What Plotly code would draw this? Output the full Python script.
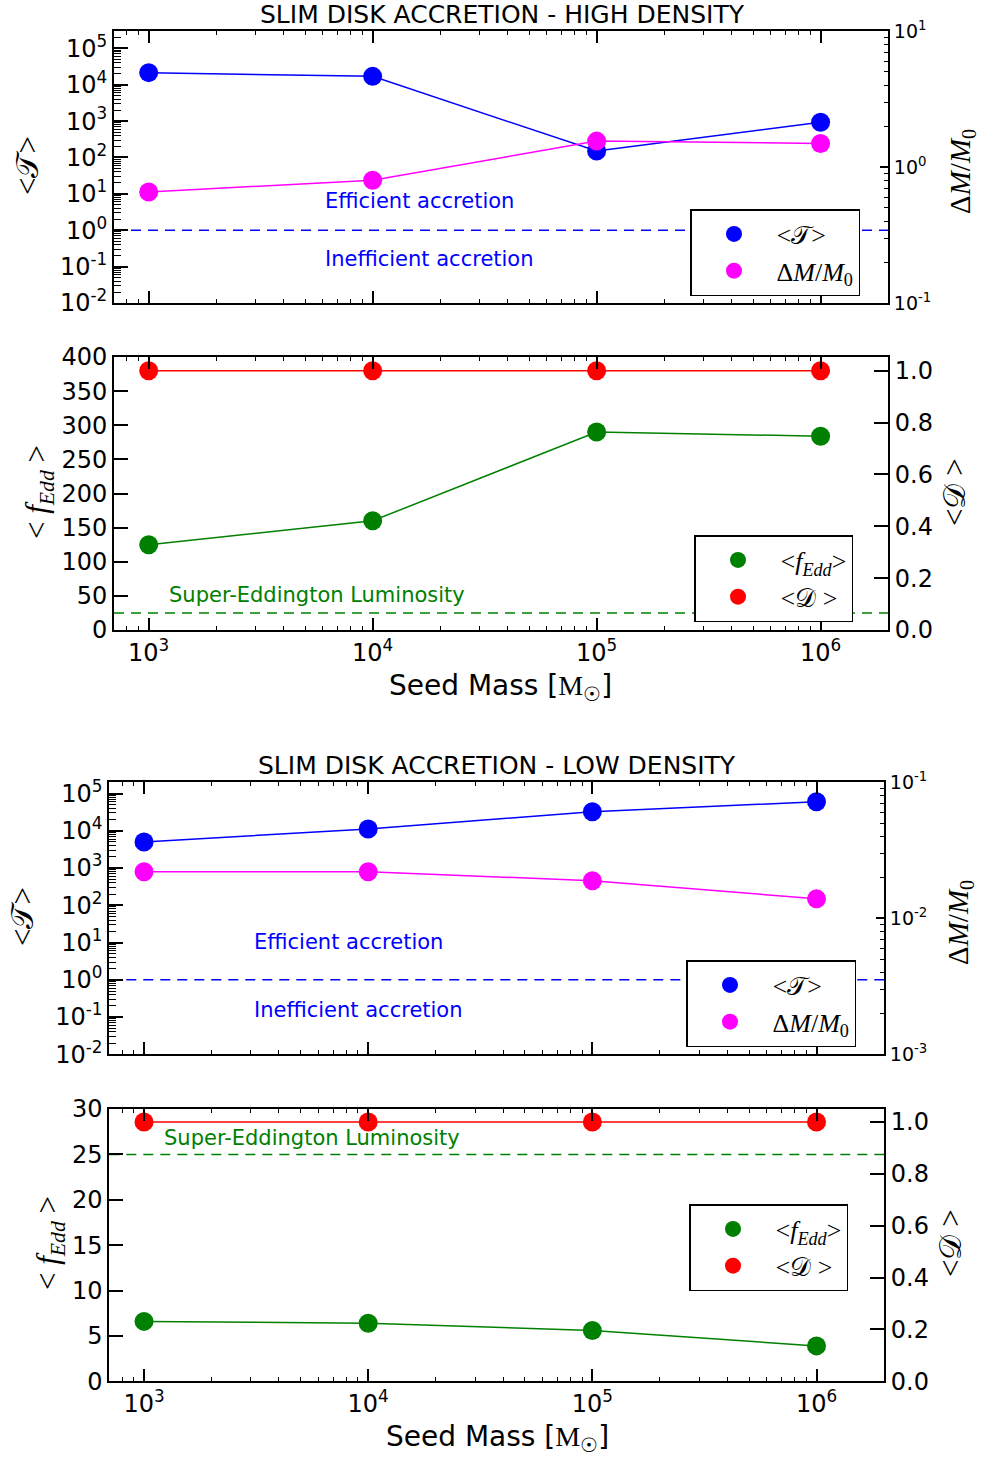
import math
import plotly.graph_objects as go

# ---------------- data ----------------
seed_mass = [1e3, 1e4, 1e5, 1e6]
x_tick_vals = [1e3, 1e4, 1e5, 1e6]
x_tick_text = ["10<sup>3</sup>", "10<sup>4</sup>", "10<sup>5</sup>", "10<sup>6</sup>"]

# High density
T_high = [2.15e4, 1.7e4, 150, 925]
dM_high = [0.655, 0.80, 1.55, 1.49]
fEdd_high = [125, 160, 290, 284]
D_high = [1.0, 1.0, 1.0, 1.0]

# Low density
T_low = [5.0e3, 1.12e4, 3.25e4, 6.0e4]
dM_low = [0.022, 0.022, 0.0189, 0.0139]
fEdd_low = [6.6, 6.4, 5.6, 3.9]
D_low = [1.0, 1.0, 1.0, 1.0]

T_threshold = 1
fEdd_threshold = 25

T_tick_vals = [1e-2, 1e-1, 1e0, 1e1, 1e2, 1e3, 1e4, 1e5]
T_tick_text = ["10<sup>-2</sup>", "10<sup>-1</sup>", "10<sup>0</sup>", "10<sup>1</sup>",
               "10<sup>2</sup>", "10<sup>3</sup>", "10<sup>4</sup>", "10<sup>5</sup>"]
dM_high_tick_vals = [1e-1, 1e0, 1e1]
dM_high_tick_text = ["10<sup>-1</sup>", "10<sup>0</sup>", "10<sup>1</sup>"]
dM_low_tick_vals = [1e-3, 1e-2, 1e-1]
dM_low_tick_text = ["10<sup>-3</sup>", "10<sup>-2</sup>", "10<sup>-1</sup>"]
fEdd_high_ticks = [0, 50, 100, 150, 200, 250, 300, 350, 400]
fEdd_low_ticks = [0, 5, 10, 15, 20, 25, 30]
D_ticks = [0.0, 0.2, 0.4, 0.6, 0.8, 1.0]

# ---------------- style ----------------
W, H = 982, 1457
BLUE, MAGENTA, GREEN, RED = "#0000ff", "#ff00ff", "#008000", "#ff0000"
SANS = "DejaVu Sans"
SERIF = "Liberation Serif"

def px(x):
    return x / W

def py(y):
    return 1 - y / H

T_LBL = "&lt;𝒯&gt;"
DM_LBL = "Δ<i>M</i>/<i>M</i><sub>0</sub>"
F_LBL = "&lt;<i>f</i><sub><i>Edd</i></sub>&gt;"
F_AX_LBL = "&lt; <i>f</i><sub><i>Edd</i></sub> &gt;"
D_LBL = "&lt;𝒟 &gt;"
D_AX_LBL = "&lt;𝒟 &gt;"

fig = go.Figure()

def add_series(x, y, xa, ya, color, name, legend):
    fig.add_trace(go.Scatter(x=x, y=y, xaxis=xa, yaxis=ya, mode="lines",
                             line=dict(color=color, width=1.5), showlegend=False,
                             hoverinfo="skip"))
    fig.add_trace(go.Scatter(x=x, y=y, xaxis=xa, yaxis=ya, mode="markers",
                             marker=dict(color=color, size=19), name=name,
                             legend=legend, showlegend=True))

add_series(seed_mass, T_high, "x", "y", BLUE, T_LBL, "legend")
add_series(seed_mass, dM_high, "x", "y2", MAGENTA, DM_LBL, "legend")
add_series(seed_mass, fEdd_high, "x2", "y3", GREEN, F_LBL, "legend2")
add_series(seed_mass, D_high, "x2", "y4", RED, D_LBL, "legend2")
add_series(seed_mass, T_low, "x3", "y5", BLUE, T_LBL, "legend3")
add_series(seed_mass, dM_low, "x3", "y6", MAGENTA, DM_LBL, "legend3")
add_series(seed_mass, fEdd_low, "x4", "y7", GREEN, F_LBL, "legend4")
add_series(seed_mass, D_low, "x4", "y8", RED, D_LBL, "legend4")

# ---------------- axes ----------------
xr = [math.log10(700), math.log10(2e6)]
dom_x_top = [px(114), px(888)]
dom_x_bot = [px(109.3), px(884)]
dom_y = {
    1: [py(303), py(31)],
    2: [py(630), py(357)],
    3: [py(1054.3), py(782.3)],
    4: [py(1381.3), py(1109)],
}

def xaxis(domain, anchor, labels):
    return dict(type="log", range=xr, domain=domain, anchor=anchor,
                tickmode="array", tickvals=x_tick_vals, ticktext=x_tick_text,
                ticks="inside", ticklen=12, tickwidth=1.5, tickcolor="black",
                showline=True, linecolor="black", linewidth=2, mirror="ticks",
                showgrid=False, zeroline=False, showticklabels=labels,
                tickfont=dict(size=24, family=SANS, color="black"),
                minor=dict(ticks="inside", ticklen=4, tickcolor="black", tickwidth=1,
                           dtick="D1", showgrid=False))

def ylog(domain, anchor, rng, vals, text, side, overlay=None, fs=24, tl=14):
    d = dict(type="log", range=rng, domain=domain, anchor=anchor, side=side,
             tickmode="array", tickvals=vals, ticktext=text,
             ticks="inside", ticklen=tl, tickwidth=1.5, tickcolor="black",
             showline=True, linecolor="black", linewidth=2,
             showgrid=False, zeroline=False,
             tickfont=dict(size=fs, family=SANS, color="black"),
             minor=dict(ticks="inside", ticklen=tl // 2, tickcolor="black", tickwidth=1,
                        dtick="D1", showgrid=False))
    if overlay:
        d["overlaying"] = overlay
    return d

def ylin(domain, anchor, rng, vals, side, overlay=None, fmt=None):
    d = dict(type="linear", range=rng, domain=domain, anchor=anchor, side=side,
             tickmode="array", tickvals=vals,
             ticks="inside", ticklen=14, tickwidth=1.5, tickcolor="black",
             showline=True, linecolor="black", linewidth=2,
             showgrid=False, zeroline=False,
             tickfont=dict(size=24, family=SANS, color="black"))
    if fmt:
        d["tickformat"] = fmt
    if overlay:
        d["overlaying"] = overlay
    return d

layout = dict(
    width=W, height=H,
    margin=dict(l=0, r=0, t=0, b=0, autoexpand=False),
    paper_bgcolor="white", plot_bgcolor="white",
    font=dict(family=SANS, color="black"),
    xaxis=xaxis(dom_x_top, "y", False),
    xaxis2=xaxis(dom_x_top, "y3", True),
    xaxis3=xaxis(dom_x_bot, "y5", False),
    xaxis4=xaxis(dom_x_bot, "y7", True),
    yaxis=ylog(dom_y[1], "x", [-2, math.log10(3e5)], T_tick_vals, T_tick_text, "left"),
    yaxis2=ylog(dom_y[1], "x", [-1, 1], dM_high_tick_vals, dM_high_tick_text, "right", "y", fs=19, tl=8),
    yaxis3=ylin(dom_y[2], "x2", [0, 400], fEdd_high_ticks, "left"),
    yaxis4=ylin(dom_y[2], "x2", [0, 1.053], D_ticks, "right", "y3", ".1f"),
    yaxis5=ylog(dom_y[3], "x3", [-2, math.log10(2e5)], T_tick_vals, T_tick_text, "left"),
    yaxis6=ylog(dom_y[3], "x3", [-3, -1], dM_low_tick_vals, dM_low_tick_text, "right", "y5", fs=19, tl=8),
    yaxis7=ylin(dom_y[4], "x4", [0, 30], fEdd_low_ticks, "left"),
    yaxis8=ylin(dom_y[4], "x4", [0, 1.05], D_ticks, "right", "y7", ".1f"),
)

def legend_cfg(x, y):
    return dict(x=px(x), y=py(y), xanchor="left", yanchor="top",
                bordercolor="black", borderwidth=1.5, bgcolor="white",
                font=dict(size=26, family=SERIF, color="black"),
                itemwidth=75, tracegroupgap=0, itemsizing="trace")

layout["legend"] = legend_cfg(690, 209)
layout["legend2"] = legend_cfg(694, 535)
layout["legend3"] = legend_cfg(686, 960)
layout["legend4"] = legend_cfg(689, 1204)

# threshold dashed lines
shapes = []
for xa, ya, val, col in [("x", "y", T_threshold, BLUE), ("x2", "y3", fEdd_threshold, GREEN),
                         ("x3", "y5", T_threshold, BLUE), ("x4", "y7", fEdd_threshold, GREEN)]:
    shapes.append(dict(type="line", xref=f"{xa} domain", x0=0, x1=1, yref=ya, y0=val, y1=val,
                       line=dict(color=col, width=1.5, dash="10px,7px"), layer="below"))
layout["shapes"] = shapes

ann = []
def text(x, y, s, size, color="black", family=SANS, xanchor="center", angle=0):
    ann.append(dict(x=px(x), y=py(y), xref="paper", yref="paper", text=s, showarrow=False,
                    xanchor=xanchor, yanchor="middle", textangle=angle,
                    font=dict(size=size, color=color, family=family)))

text(502, 14, "SLIM DISK ACCRETION - HIGH DENSITY", 25)
text(497, 765, "SLIM DISK ACCRETION - LOW DENSITY", 25)
text(323, 201, "Efficient accretion", 21, BLUE, xanchor="left")
text(323, 259, "Inefficient accretion", 21, BLUE, xanchor="left")
text(252, 942, "Efficient accretion", 21, BLUE, xanchor="left")
text(252, 1010, "Inefficient accretion", 21, BLUE, xanchor="left")
text(167, 595, "Super-Eddington Luminosity", 21, GREEN, xanchor="left")
text(162, 1138, "Super-Eddington Luminosity", 21, GREEN, xanchor="left")

seed_lbl = 'Seed Mass [<span style="font-family:Liberation Serif">M<sub>☉</sub></span>]'
text(500, 687, seed_lbl, 28)
text(497, 1438, seed_lbl, 28)

text(28, 166, T_LBL, 31, family=SERIF, angle=-90)
text(962, 172, DM_LBL, 29, family=SERIF, angle=-90)
text(39, 492, F_AX_LBL, 31, family=SERIF, angle=-90)
text(955, 492, D_AX_LBL, 31, family=SERIF, angle=-90)
text(22, 917, T_LBL, 31, family=SERIF, angle=-90)
text(960, 923, DM_LBL, 29, family=SERIF, angle=-90)
text(50, 1243, F_AX_LBL, 31, family=SERIF, angle=-90)
text(950, 1243, D_AX_LBL, 31, family=SERIF, angle=-90)
layout["annotations"] = ann

fig.update_layout(**layout)
fig.write_html("out.html")
